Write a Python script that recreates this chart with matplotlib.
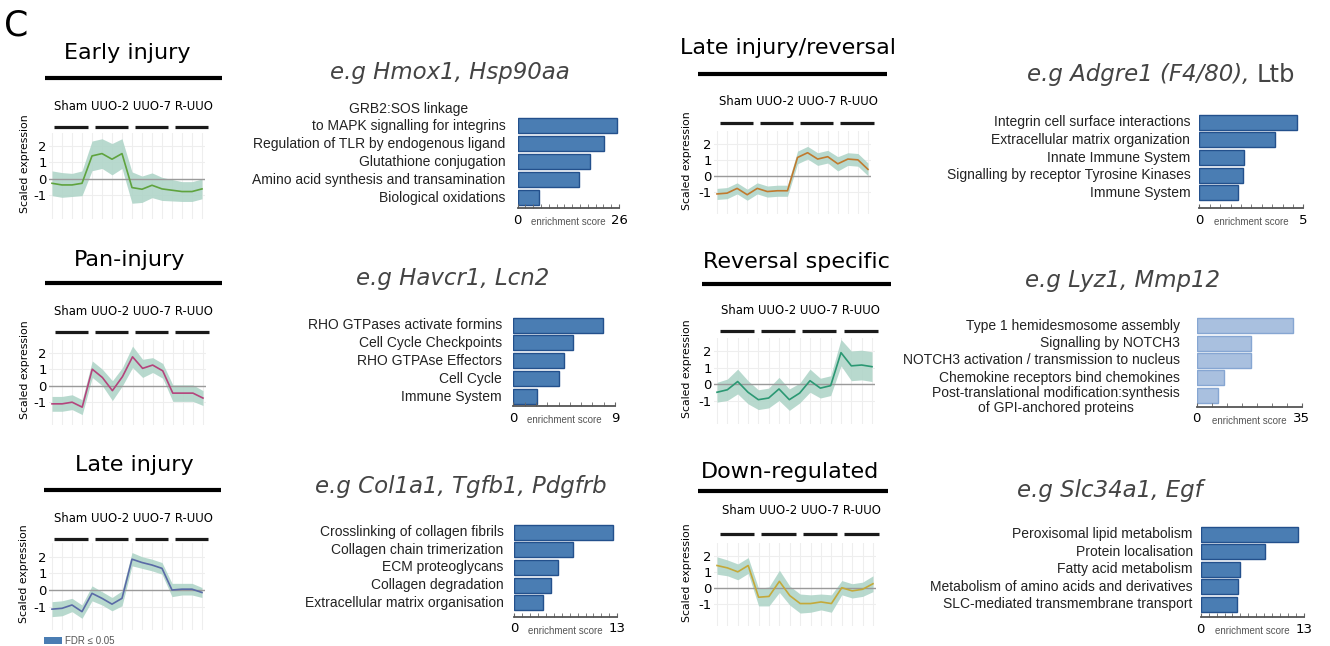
import numpy as np
import matplotlib.pyplot as plt
from matplotlib.lines import Line2D
from matplotlib.patches import Rectangle
from matplotlib.text import Annotation
from matplotlib.ticker import MultipleLocator
from matplotlib.transforms import blended_transform_factory

plt.rcParams['font.family'] = 'DejaVu Sans'
plt.rcParams['axes.unicode_minus'] = False

groups = ['Sham', 'UUO-2', 'UUO-7', 'R-UUO']

# cluster profiles: 4 samples per group, mean scaled expression and band half-width
early_mean = [-0.26, -0.36, -0.36, -0.26, 1.4, 1.54, 1.2, 1.54, -0.52, -0.62, -0.38, -0.6, -0.68, -0.76, -0.76, -0.6]
early_spread = [0.75, 0.75, 0.7, 0.75, 0.9, 0.9, 0.95, 0.9, 0.95, 0.8, 0.75, 0.7, 0.65, 0.6, 0.6, 0.6]
pan_mean = [-1.1, -1.1, -1.0, -1.3, 1.0, 0.5, -0.3, 0.55, 1.75, 1.05, 1.25, 0.9, -0.45, -0.45, -0.45, -0.75]
pan_spread = [0.45, 0.45, 0.45, 0.45, 0.5, 0.5, 0.6, 0.55, 0.65, 0.55, 0.45, 0.45, 0.5, 0.5, 0.5, 0.45]
late_mean = [-1.15, -1.1, -0.9, -1.3, -0.2, -0.5, -0.85, -0.5, 1.85, 1.65, 1.5, 1.3, 0.0, 0.05, 0.05, -0.15]
late_spread = [0.45, 0.45, 0.4, 0.4, 0.45, 0.4, 0.4, 0.45, 0.4, 0.35, 0.35, 0.35, 0.4, 0.35, 0.35, 0.3]
laterev_mean = [-1.15, -1.1, -0.8, -1.2, -0.8, -1.0, -0.95, -0.95, 1.15, 1.45, 1.05, 1.2, 0.75, 1.05, 1.0, 0.4]
laterev_spread = [0.35, 0.35, 0.35, 0.35, 0.35, 0.35, 0.35, 0.35, 0.4, 0.4, 0.4, 0.4, 0.45, 0.4, 0.4, 0.4]
rev_mean = [-0.5, -0.35, 0.15, -0.5, -0.95, -0.85, -0.3, -0.95, -0.55, 0.2, -0.25, -0.1, 1.9, 1.1, 1.15, 1.05]
rev_spread = [0.6, 0.65, 0.75, 0.7, 0.6, 0.6, 0.7, 0.65, 0.6, 0.7, 0.6, 0.6, 0.8, 0.9, 0.9, 0.9]
down_mean = [1.4, 1.25, 1.0, 1.4, -0.6, -0.55, 0.4, -0.5, -1.0, -1.0, -0.9, -1.0, 0.0, -0.2, -0.1, 0.25]
down_spread = [0.55, 0.5, 0.5, 0.5, 0.55, 0.6, 0.7, 0.6, 0.6, 0.55, 0.5, 0.55, 0.45, 0.45, 0.45, 0.5]

# pathway enrichment per cluster
early_terms = ['GRB2:SOS linkage\nto MAPK signalling for integrins', 'Regulation of TLR by endogenous ligand',
               'Glutathione conjugation', 'Amino acid synthesis and transamination', 'Biological oxidations']
early_scores = [25.6, 22.2, 18.6, 15.8, 5.5]
pan_terms = ['RHO GTPases activate formins', 'Cell Cycle Checkpoints', 'RHO GTPAse Effectors', 'Cell Cycle', 'Immune System']
pan_scores = [7.9, 5.3, 4.5, 4.0, 2.1]
late_terms = ['Crosslinking of collagen fibrils', 'Collagen chain trimerization', 'ECM proteoglycans',
              'Collagen degradation', 'Extracellular matrix organisation']
late_scores = [12.4, 7.4, 5.5, 4.7, 3.6]
laterev_terms = ['Integrin cell surface interactions', 'Extracellular matrix organization', 'Innate Immune System',
                 'Signalling by receptor Tyrosine Kinases', 'Immune System']
laterev_scores = [4.68, 3.64, 2.16, 2.08, 1.88]
rev_terms = ['Type 1 hemidesmosome assembly', 'Signalling by NOTCH3', 'NOTCH3 activation / transmission to nucleus',
             'Chemokine receptors bind chemokines', 'Post-translational modification:synthesis\nof GPI-anchored proteins']
rev_scores = [32.2, 18.0, 18.0, 9.1, 7.2]
down_terms = ['Peroxisomal lipid metabolism', 'Protein localisation', 'Fatty acid metabolism',
              'Metabolism of amino acids and derivatives', 'SLC-mediated transmembrane transport']
down_scores = [12.2, 8.1, 5.0, 4.7, 4.6]

early_genes = ['Hmox1', 'Hsp90aa']
pan_genes = ['Havcr1', 'Lcn2']
late_genes = ['Col1a1', 'Tgfb1', 'Pdgfrb']
laterev_genes = ['Adgre1 (F4/80)', 'Ltb']
rev_genes = ['Lyz1', 'Mmp12']
down_genes = ['Slc34a1', 'Egf']

W, H = 1330, 646
fig = plt.figure(figsize=(W / 100, H / 100), dpi=100)


def fx(px):
    return px / W


def fy(py):
    return 1 - py / H


def px_axes(left, top, right, bottom):
    return fig.add_axes([fx(left), fy(bottom), (right - left) / W, (bottom - top) / H])


def draw_profile(name, mean, spread, color, lay):
    fig.text(fx(lay['title'][0]), fy(lay['title'][1]), name, ha='center', va='center', fontsize=16)
    x0, x1, yr = lay['rule']
    fig.add_artist(Line2D([fx(x0), fx(x1)], [fy(yr), fy(yr)], color='black', lw=3, solid_capstyle='butt'))

    step = (lay['x_last'] - lay['x_first']) / 15
    unit = (lay['y_zero'] - lay['y_two']) / 2
    ax = px_axes(lay['x_first'] - 0.3 * step, lay['y_zero'] - 2.8 * unit,
                 lay['x_last'] + 0.3 * step, lay['y_zero'] + 2.4 * unit)
    x = np.arange(16)
    mean = np.array(mean)
    spread = np.array(spread)
    ax.fill_between(x, mean - spread, mean + spread, color='#acd3c6', alpha=0.85, lw=0)
    ax.axhline(0, color='#9a9a9a', lw=1)
    ax.plot(x, mean, color=color, lw=1.2)
    ax.set_xlim(-0.3, 15.3)
    ax.set_ylim(-2.4, 2.8)
    ax.set_xticks(x)
    ax.set_yticks([-1, 0, 1, 2])
    ax.tick_params(length=0, labelsize=9.5, pad=1.5)
    ax.tick_params(axis='x', labelbottom=False)
    ax.grid(True, color='#eeeeee', lw=0.8)
    ax.set_axisbelow(True)
    ax.set_facecolor('none')
    for s in ax.spines.values():
        s.set_visible(False)

    # sample group bars and their names above the profile
    tr = blended_transform_factory(ax.transData, fig.transFigure)
    for g in range(len(groups)):
        c = 4 * g + 1.9
        ax.plot([c - 1.65, c + 1.65], [fy(lay['y_bars'])] * 2, transform=tr, color='#1a1a1a',
                lw=2.3, clip_on=False, solid_capstyle='butt')
    ax.text(8.1, fy(lay['y_labels']), ' '.join(groups), transform=tr, ha='center', va='center',
            fontsize=8.4)
    fig.text(fx(lay['ylabel_x']), fy(lay['y_zero'] - 0.95 * unit), 'Scaled expression',
             rotation=90, ha='center', va='center', fontsize=7.8)


def gene_label(genes, x, y, upright_last=False):
    if upright_last:
        head = fig.text(fx(x), fy(y), 'e.g ' + ', '.join(genes[:-1]) + ', ', ha='left', va='center',
                        fontsize=16.5, style='italic', color='#444444')
        fig.add_artist(Annotation(genes[-1], xy=(1, 0), xycoords=head, ha='left', va='bottom',
                                  fontsize=17.5, color='#444444'))
    else:
        fig.text(fx(x), fy(y), 'e.g ' + ', '.join(genes), ha='left', va='center',
                 fontsize=16.5, style='italic', color='#444444')


def draw_enrichment(terms, scores, xmax, step, lay, face='#4a7db3', edge='#23508c'):
    n = len(terms)
    sp = (lay['y_last'] - lay['y_first']) / (n - 1)
    ax = px_axes(lay['x0'], lay['y_first'] - 9, lay['x1'], lay['y_axis'])
    pos = np.arange(n)
    ax.barh(pos, scores, height=15 / sp, color=face, edgecolor=edge, lw=1)
    ax.set_xlim(0, xmax)
    ax.set_ylim(n - 1 + (lay['y_axis'] - lay['y_last']) / sp, -9 / sp)
    ax.set_yticks([])
    ax.set_xticks([0, xmax])
    ax.set_xticklabels(['0', str(xmax)])
    ax.xaxis.set_minor_locator(MultipleLocator(step))
    ax.tick_params(axis='x', which='both', direction='in', length=3, color='#666666',
                   labelsize=9.5, pad=4)
    for side in ['top', 'right', 'left']:
        ax.spines[side].set_visible(False)
    ax.spines['bottom'].set_color('#555555')
    ax.spines['bottom'].set_linewidth(1.3)
    ax.set_facecolor('none')
    ax.annotate('enrichment score', xy=(0.5, 0), xycoords='axes fraction', xytext=(0, -10),
                textcoords='offset points', ha='center', va='center', fontsize=7,
                color='#555555', family='Liberation Sans')
    gap = lay['gap'] * 72 / 100
    for i, term in enumerate(terms):
        dy = lay.get('shift', {}).get(i, 0)
        ax.annotate(term, xy=(0, i), xycoords=('axes fraction', 'data'), xytext=(-gap, dy),
                    textcoords='offset points', ha='right', va='center', multialignment='center',
                    linespacing=lay.get('linespacing', 1.3), fontsize=10, family='Liberation Sans',
                    color='#222222')


fig.text(fx(4), fy(25), 'C', ha='left', va='center', fontsize=25)

draw_profile('Early injury', early_mean, early_spread, '#5fa33e',
             dict(title=(127, 53), rule=(45, 222, 78), x_first=52, x_last=202, y_zero=179, y_two=146,
                  y_labels=107, y_bars=127, ylabel_x=25))
draw_profile('Pan-injury', pan_mean, pan_spread, '#b4447c',
             dict(title=(130, 260), rule=(45, 222, 283), x_first=52, x_last=203, y_zero=385.7, y_two=352.7,
                  y_labels=311.7, y_bars=332.3, ylabel_x=25))
draw_profile('Late injury', late_mean, late_spread, '#5a6aa6',
             dict(title=(134, 465), rule=(44, 221, 490), x_first=52, x_last=202, y_zero=590, y_two=556.7,
                  y_labels=518.3, y_bars=539, ylabel_x=24))
draw_profile('Late injury/reversal', laterev_mean, laterev_spread, '#c07a2e',
             dict(title=(788, 48), rule=(698, 887, 74), x_first=717, x_last=868, y_zero=175.7, y_two=144,
                  y_labels=101.7, y_bars=123.3, ylabel_x=687))
draw_profile('Reversal specific', rev_mean, rev_spread, '#2b9873',
             dict(title=(796, 262), rule=(702, 891, 284), x_first=717, x_last=872, y_zero=384, y_two=351,
                  y_labels=310, y_bars=330.7, ylabel_x=687))
draw_profile('Down-regulated', down_mean, down_spread, '#c4a93a',
             dict(title=(790, 472), rule=(698, 888, 491), x_first=717, x_last=873, y_zero=587.7, y_two=556,
                  y_labels=511, y_bars=534.3, ylabel_x=687))

draw_enrichment(early_terms, early_scores, 26, 2,
                dict(x0=517.7, x1=619, y_first=125.7, y_last=197.7, y_axis=208.3, gap=12, shift={0: 6}))
draw_enrichment(pan_terms, pan_scores, 9, 1,
                dict(x0=513.3, x1=615, y_first=325, y_last=396.7, y_axis=406, gap=11.5))
draw_enrichment(late_terms, late_scores, 13, 1,
                dict(x0=514, x1=617.3, y_first=532.3, y_last=602.7, y_axis=616.7, gap=10.5))
draw_enrichment(laterev_terms, laterev_scores, 5, 0.5,
                dict(x0=1199.3, x1=1303.3, y_first=122.3, y_last=192.7, y_axis=208.3, gap=9))
draw_enrichment(rev_terms, rev_scores, 35, 5,
                dict(x0=1196.7, x1=1301.7, y_first=325.7, y_last=395, y_axis=406.7, gap=17,
                     shift={4: -4}, linespacing=1.05),
                face='#a9c0df', edge='#86a6d2')
draw_enrichment(down_terms, down_scores, 13, 1,
                dict(x0=1200.7, x1=1304, y_first=534, y_last=604.3, y_axis=617.3, gap=8))

gene_label(early_genes, 330, 73)
gene_label(pan_genes, 356, 278)
gene_label(late_genes, 315, 487)
gene_label(laterev_genes, 1027, 75, upright_last=True)
gene_label(rev_genes, 1025, 280)
gene_label(down_genes, 1017, 490)

# significance key
fig.add_artist(Rectangle((fx(44), fy(644)), fx(62) - fx(44), 7 / H, transform=fig.transFigure,
                         facecolor='#4a7db3', edgecolor='none'))
fig.text(fx(65), fy(640.5), 'FDR ≤ 0.05', ha='left', va='center', fontsize=7, color='#555555',
         family='Liberation Sans')

fig.savefig('out.png', dpi=100, facecolor='white')
